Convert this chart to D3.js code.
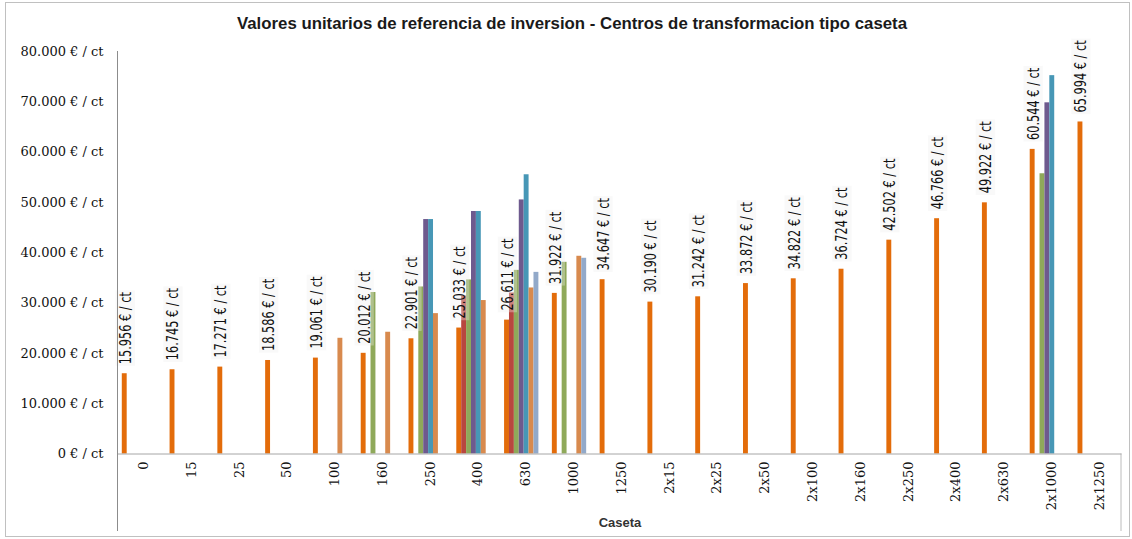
<!DOCTYPE html>
<html>
<head>
<meta charset="utf-8">
<script src="https://d3js.org/d3.v7.min.js"></script>
<style>
  body { margin: 0; background: #fff; }
</style>
</head>
<body>
<script>
// Categories (caseta sizes)
const categories = ["0", "15", "25", "50", "100", "160", "250", "400", "630", "1000", "1250",
  "2x15", "2x25", "2x50", "2x100", "2x160", "2x250", "2x400", "2x630", "2x1000", "2x1250"];

// Series values (null = no bar)
const serieNaranja = [15956, 16745, 17271, 18586, 19061, 20012, 22901, 25033, 26611, 31922, 34647,
  30190, 31242, 33872, 34822, 36724, 42502, 46766, 49922, 60544, 65994];
const serieRojo = [null, null, null, null, null, null, null, 31400, 32000, null, null,
  null, null, null, null, null, null, null, null, null, null];
const serieVerde = [null, null, null, null, null, 32100, 33200, 34600, 36500, 38100, null,
  null, null, null, null, null, null, null, null, 55700, null];
const serieMorado = [null, null, null, null, null, null, 46600, 48200, 50500, null, null,
  null, null, null, null, null, null, null, null, 69800, null];
const serieAzul = [null, null, null, null, null, null, 46600, 48200, 55500, null, null,
  null, null, null, null, null, null, null, null, 75200, null];
const serieCanela = [null, null, null, null, 23000, 24200, 27900, 30500, 33000, 39300, null,
  null, null, null, null, null, null, null, null, null, null];
const serieCeleste = [null, null, null, null, null, null, null, null, 36100, 38900, null,
  null, null, null, null, null, null, null, null, null, null];

const yTicks = [0, 10000, 20000, 30000, 40000, 50000, 60000, 70000, 80000];

const series = [
  { values: serieNaranja, color: "#e36c0a" },
  { values: serieRojo, color: "#b8473f" },
  { values: serieVerde, color: "#8fa95a" },
  { values: serieMorado, color: "#6e5a8e" },
  { values: serieAzul, color: "#4797b6" },
  { values: serieCanela, color: "#d88a4e" },
  { values: serieCeleste, color: "#92a9c9" }
];
// the original chart keeps 8 slots per category (last one empty)
const slots = 8;

const W = 1132, H = 539;
const margin = { top: 51, right: 11, bottom: 85.5, left: 117.5 };

const es = d3.formatLocale({ decimal: ",", thousands: ".", grouping: [3], currency: ["", "€"] });
const fmt = es.format(",d");

const svg = d3.select("body").append("svg")
  .attr("width", W)
  .attr("height", H);

// chart frame
svg.append("rect")
  .attr("x", 5.5).attr("y", 2.5)
  .attr("width", 1124).attr("height", 534)
  .attr("fill", "#fff")
  .attr("stroke", "#c0c0c0");

const x = d3.scaleBand()
  .domain(categories)
  .range([margin.left, W - margin.right]);

const xs = d3.scaleBand()
  .domain(d3.range(slots))
  .range([0, x.bandwidth()])
  .paddingInner(0)
  .paddingOuter(0.875);

const y = d3.scaleLinear()
  .domain([0, 80000])
  .range([H - margin.bottom, margin.top]);

// title
svg.append("text")
  .attr("x", 572)
  .attr("y", 29)
  .attr("text-anchor", "middle")
  .attr("textLength", 670)
  .attr("lengthAdjust", "spacingAndGlyphs")
  .style("font", "bold 16px 'Liberation Sans', Arial, sans-serif")
  .attr("fill", "#1a1a1a")
  .text("Valores unitarios de referencia de inversion - Centros de transformacion tipo caseta");

// bars
series.forEach((s, si) => {
  svg.append("g")
    .selectAll("rect")
    .data(s.values.map((v, i) => ({ cat: categories[i], v })).filter(d => d.v != null))
    .join("rect")
    .attr("x", d => x(d.cat) + xs(si))
    .attr("y", d => y(d.v))
    .attr("width", xs.bandwidth())
    .attr("height", d => y(0) - y(d.v))
    .attr("fill", s.color);
});

// data labels of the main series (narrowed, like the original condensed font)
const labels = svg.append("g");
serieNaranja.forEach((v, i) => {
  const cx = x(categories[i]) + xs(0) + xs.bandwidth() / 2 + 1;
  const top = y(v) - 9;
  const g = labels.append("g").attr("transform", `translate(${cx},${top}) rotate(-90) scale(0.84,1)`);
  const t = g.append("text")
    .attr("dy", "0.36em")
    .style("font", "15px 'Liberation Sans Narrow', 'DejaVu Sans Condensed', sans-serif")
    .attr("fill", "#111")
    .text(`${fmt(v)} € / ct`);
  const bb = t.node().getBBox();
  g.insert("rect", "text")
    .attr("x", bb.x - 2).attr("y", bb.y - 1)
    .attr("width", bb.width + 4).attr("height", bb.height + 2)
    .attr("fill", "#eeeeee")
    .attr("fill-opacity", 0.35);
});

// y axis
const yAxis = svg.append("g")
  .attr("transform", `translate(${margin.left},0)`)
  .call(d3.axisLeft(y).tickValues(yTicks).tickSize(0).tickPadding(14)
    .tickFormat(d => `${fmt(d)} € / ct`));
yAxis.select(".domain").remove();
yAxis.selectAll("text")
  .style("font", "13px 'DejaVu Serif', serif")
  .attr("fill", "#111");

// axis lines (vertical one runs down through the category area as in Excel)
svg.append("line")
  .attr("x1", margin.left).attr("x2", margin.left)
  .attr("y1", margin.top).attr("y2", 531)
  .attr("stroke", "#8c8c8c");
svg.append("line")
  .attr("x1", W - margin.right).attr("x2", W - margin.right)
  .attr("y1", y(0)).attr("y2", 531)
  .attr("stroke", "#bcbcbc");

// x axis
const xAxis = svg.append("g")
  .attr("transform", `translate(0,${y(0)})`)
  .call(d3.axisBottom(x).tickSize(0).tickPadding(0));
xAxis.select(".domain").attr("stroke", "#a6a6a6");
xAxis.selectAll("text")
  .style("font", "13px 'DejaVu Serif', serif")
  .attr("fill", "#111")
  .attr("text-anchor", "end")
  .attr("transform", "translate(2,8) rotate(-90)")
  .attr("x", 0)
  .attr("y", 0)
  .attr("dy", "0.35em");

// x axis title
svg.append("text")
  .attr("x", 620)
  .attr("y", 527)
  .attr("text-anchor", "middle")
  .style("font", "bold 13px 'Liberation Sans', Arial, sans-serif")
  .attr("fill", "#333")
  .text("Caseta");
</script>
</body>
</html>
